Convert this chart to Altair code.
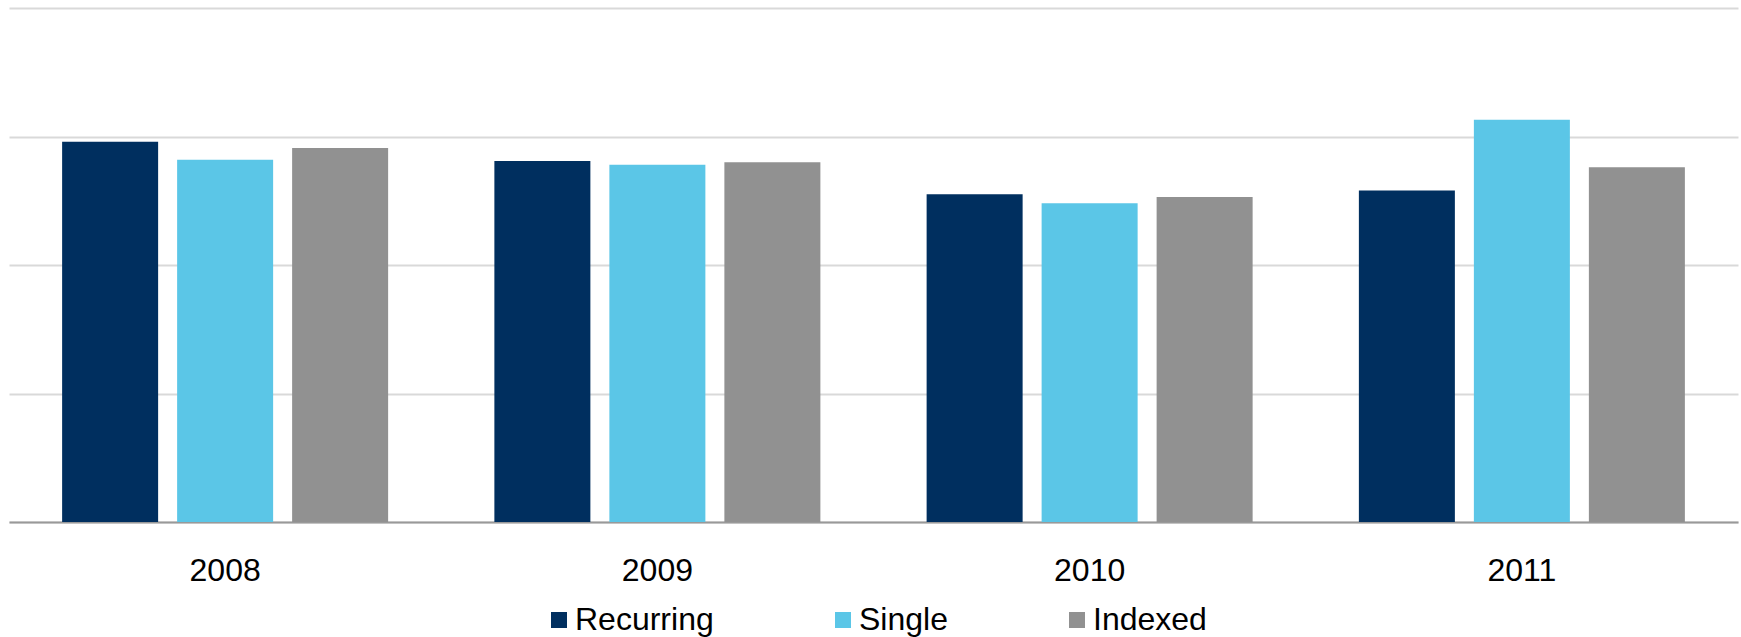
import altair as alt
import pandas as pd

# Values per year for each premium type
years = ["2008", "2009", "2010", "2011"]
series = ["Recurring", "Single", "Indexed"]
recurring = [2.96, 2.81, 2.55, 2.58]
single = [2.82, 2.78, 2.48, 3.13]
indexed = [2.91, 2.80, 2.53, 2.76]
colors = ["#002F5F", "#5BC6E7", "#919191"]

rows = []
for name, vals in zip(series, [recurring, single, indexed]):
    for yr, v in zip(years, vals):
        rows.append({"year": yr, "type": name, "value": v})
df = pd.DataFrame(rows)

FONT = "Liberation Sans"

chart = (
    alt.Chart(df)
    .mark_bar()
    .encode(
        x=alt.X(
            "year:N",
            sort=years,
            title=None,
            scale=alt.Scale(paddingInner=0.2458, paddingOuter=0.1229),
            axis=alt.Axis(
                labelAngle=0,
                labelFont=FONT,
                labelFontSize=32,
                labelColor="#000000",
                labelPadding=33,
                ticks=False,
                tickSize=0,
                domainColor="#999999",
                domainWidth=2.2,
                grid=False,
            ),
        ),
        xOffset=alt.XOffset(
            "type:N",
            sort=series,
            scale=alt.Scale(paddingInner=0.1652, paddingOuter=0),
        ),
        y=alt.Y(
            "value:Q",
            title=None,
            scale=alt.Scale(domain=[0, 4], nice=False),
            axis=alt.Axis(
                values=[0, 1, 2, 3, 4],
                labels=False,
                ticks=False,
                domain=False,
                grid=True,
                gridColor="#D9D9D9",
                gridWidth=2,
            ),
        ),
        color=alt.Color(
            "type:N",
            sort=series,
            scale=alt.Scale(domain=series, range=colors),
            legend=alt.Legend(
                title=None,
                orient="none",
                direction="horizontal",
                legendX=534,
                legendY=596,
                symbolType="square",
                symbolSize=256,
                symbolStrokeWidth=0,
                labelFont=FONT,
                labelFontSize=32,
                labelColor="#000000",
                labelOffset=0,
                columnPadding=113,
                padding=0,
            ),
        ),
    )
    .properties(
        width=1729,
        height=514,
        autosize=alt.AutoSizeParams(type="none"),
        padding={"left": 9, "top": 8, "right": 3, "bottom": 115},
    )
    .configure(background="#FFFFFF")
    .configure_view(stroke=None)
)

chart.save("out.html", embed_options={"renderer": "svg", "actions": False})
